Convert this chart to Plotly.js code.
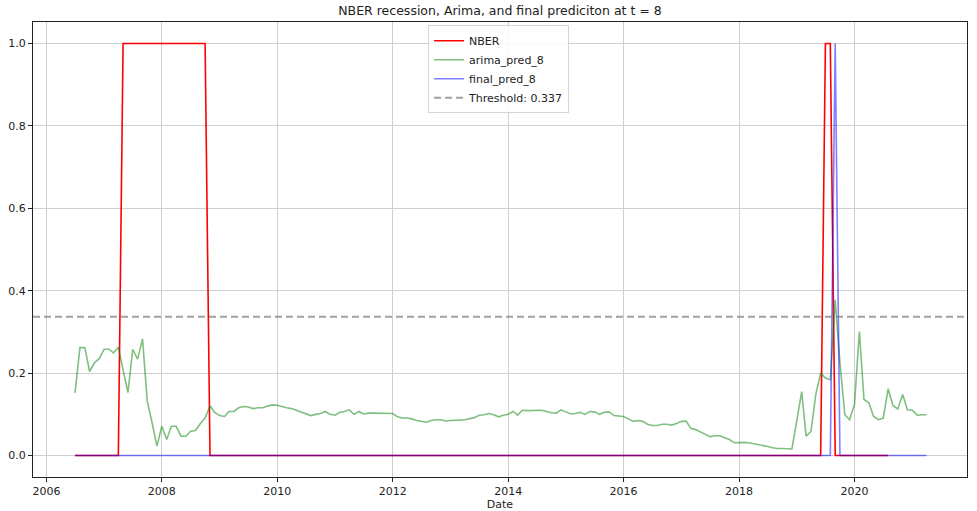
<!DOCTYPE html>
<html>
<head>
<meta charset="utf-8">
<script src="https://cdn.plot.ly/plotly-3.0.1.min.js"></script>
<style>html,body{margin:0;padding:0;background:#fff;}#chart{width:977px;height:511px;}</style>
</head>
<body>
<div id="chart"></div>
<script>
// monthly observations starting July 2006
const startYear = 2006, startMonth = 7;

const nber = [
0,0,0,0,0,0,0,0,0,0,
1,1,1,1,1,1,1,1,1,1,1,1,1,1,1,1,1,1,
0,0,0,0,0,0,0,0,0,0,0,0,0,0,0,0,0,0,0,0,0,0,0,0,0,0,0,0,0,0,0,0,
0,0,0,0,0,0,0,0,0,0,0,0,0,0,0,0,0,0,0,0,0,0,0,0,0,0,0,0,0,0,0,0,
0,0,0,0,0,0,0,0,0,0,0,0,0,0,0,0,0,0,0,0,0,0,0,0,0,0,0,0,0,0,0,0,
0,0,0,0,0,0,0,0,0,0,0,0,0,0,0,0,0,0,0,0,0,0,0,0,0,0,0,0,0,0,0,0,
1,1,
0,0,0,0,0,0,0,0,0,0,0,0
];

const arimaPred8 = [
0.152,0.262,0.262,0.204,0.225,0.235,0.258,0.258,0.249,0.263,
0.208,0.153,0.258,0.234,0.283,0.132,0.079,0.023,0.071,0.039,
0.071,0.071,0.047,0.047,0.059,0.061,0.078,0.091,0.120,0.105,
0.097,0.095,0.107,0.107,0.116,0.119,
0.118,0.114,0.116,0.116,0.120,0.123,0.122,0.118,0.116,0.114,
0.110,0.105,0.101,0.097,0.100,0.102,0.107,0.100,0.098,0.105,
0.107,0.111,0.100,0.107,0.101,0.103,0.103,0.103,0.103,0.102,
0.102,0.094,0.091,0.091,0.089,0.085,0.083,0.081,0.085,0.087,
0.087,0.084,0.085,0.085,0.086,0.087,0.089,0.092,0.098,0.099,
0.102,0.099,0.094,0.098,0.100,0.107,0.098,0.110,0.109,0.109,
0.109,0.110,
0.107,0.104,0.103,0.111,0.106,0.101,0.102,0.105,0.100,0.107,
0.106,0.100,0.105,0.106,0.097,0.096,0.095,0.089,0.083,0.085,
0.083,0.076,0.073,0.073,0.076,0.076,0.074,0.078,0.083,0.083,
0.066,0.063,0.057,0.052,0.046,0.048,0.048,0.043,0.039,0.031,
0.032,0.032,0.031,0.029,0.027,0.025,0.022,0.019,0.017,0.017,
0.017,0.016,
0.085,0.155,0.047,0.059,0.148,0.200,0.188,0.184,0.378,0.225,
0.099,0.087,0.124,0.301,0.136,0.128,0.095,0.087,0.091,0.162,
0.121,0.113,0.148,0.111,0.110,0.098,0.099,0.099
];

const finalPred8 = [
0,0,0,0,0,0,0,0,0,0,0,0,0,0,0,0,0,0,0,0,0,0,0,0,0,0,0,0,0,0,
0,0,0,0,0,0,0,0,0,0,0,0,0,0,0,0,0,0,0,0,0,0,0,0,0,0,0,0,0,0,
0,0,0,0,0,0,0,0,0,0,0,0,0,0,0,0,0,0,0,0,0,0,0,0,0,0,0,0,0,0,
0,0,0,0,0,0,0,0,0,0,0,0,0,0,0,0,0,0,0,0,0,0,0,0,0,0,0,0,0,0,
0,0,0,0,0,0,0,0,0,0,0,0,0,0,0,0,0,0,0,0,0,0,0,0,0,0,0,0,0,0,
0,0,0,0,0,0,0,0,1,0,0,0,0,0,0,0,0,0,0,0,0,0,0,0,0,0,0,0
];

const threshold = 0.337;
const titleText = 'NBER recession, Arima, and final prediciton at t = 8';

function monthDates(n) {
  const out = [];
  for (let i = 0; i < n; i++) {
    const m0 = startMonth - 1 + i;
    const y = startYear + Math.floor(m0 / 12);
    const m = (m0 % 12) + 1;
    out.push(y + '-' + String(m).padStart(2, '0') + '-01');
  }
  return out;
}
const dates = monthDates(arimaPred8.length);

const font = 'DejaVu Sans, sans-serif';

const traces = [
  {x: dates.slice(0, nber.length), y: nber, type: 'scatter', mode: 'lines', name: 'NBER',
   line: {color: 'rgb(255,0,0)', width: 1.6}},
  {x: dates, y: arimaPred8, type: 'scatter', mode: 'lines', name: 'arima_pred_8',
   line: {color: 'rgba(0,128,0,0.5)', width: 1.6}},
  {x: dates, y: finalPred8, type: 'scatter', mode: 'lines', name: 'final_pred_8',
   line: {color: 'rgba(0,0,255,0.5)', width: 1.6}}
];

const layout = {
  width: 977, height: 511,
  margin: {l: 33, r: 10, t: 22, b: 34},
  paper_bgcolor: '#fff', plot_bgcolor: '#fff',
  font: {family: font, size: 11, color: '#222'},
  title: {text: titleText, x: 0.5, xref: 'paper', xanchor: 'center', y: 0.987, yanchor: 'top',
          font: {family: font, size: 12.5, color: '#222'}},
  showlegend: true,
  legend: {x: 0.423, y: 0.993, xanchor: 'left', yanchor: 'top', bgcolor: 'rgba(255,255,255,0.85)',
           bordercolor: '#d5d5d5', borderwidth: 1, font: {family: font, size: 11, color: '#222'},
           tracegroupgap: 0},
  xaxis: {
    type: 'date', range: ['2005-10-08', '2021-12-13'],
    tick0: '2006-01-01', dtick: 'M24', tickformat: '%Y',
    showgrid: true, gridcolor: '#cfcfcf', gridwidth: 1,
    showline: true, mirror: true, linecolor: '#222', linewidth: 1,
    ticks: 'outside', ticklen: 4, tickcolor: '#222',
    zeroline: false,
    tickfont: {family: font, size: 11, color: '#222'},
    title: {text: 'Date', font: {family: font, size: 11, color: '#222'}, standoff: 3}
  },
  yaxis: {
    range: [-0.052, 1.052], dtick: 0.2, tick0: 0, tickformat: '.1f',
    showgrid: true, gridcolor: '#cfcfcf', gridwidth: 1,
    showline: true, mirror: true, linecolor: '#222', linewidth: 1,
    ticks: 'outside', ticklen: 4, tickcolor: '#222',
    zeroline: false,
    tickfont: {family: font, size: 11, color: '#222'}
  },
  shapes: [{
    type: 'line', xref: 'paper', x0: 0, x1: 1, yref: 'y', y0: threshold, y1: threshold,
    line: {color: 'rgba(128,128,128,0.75)', width: 2, dash: '7px,4px'},
    showlegend: true, name: 'Threshold: ' + threshold
  }]
};

Plotly.newPlot('chart', traces, layout, {displayModeBar: false, staticPlot: true});
</script>
</body>
</html>
